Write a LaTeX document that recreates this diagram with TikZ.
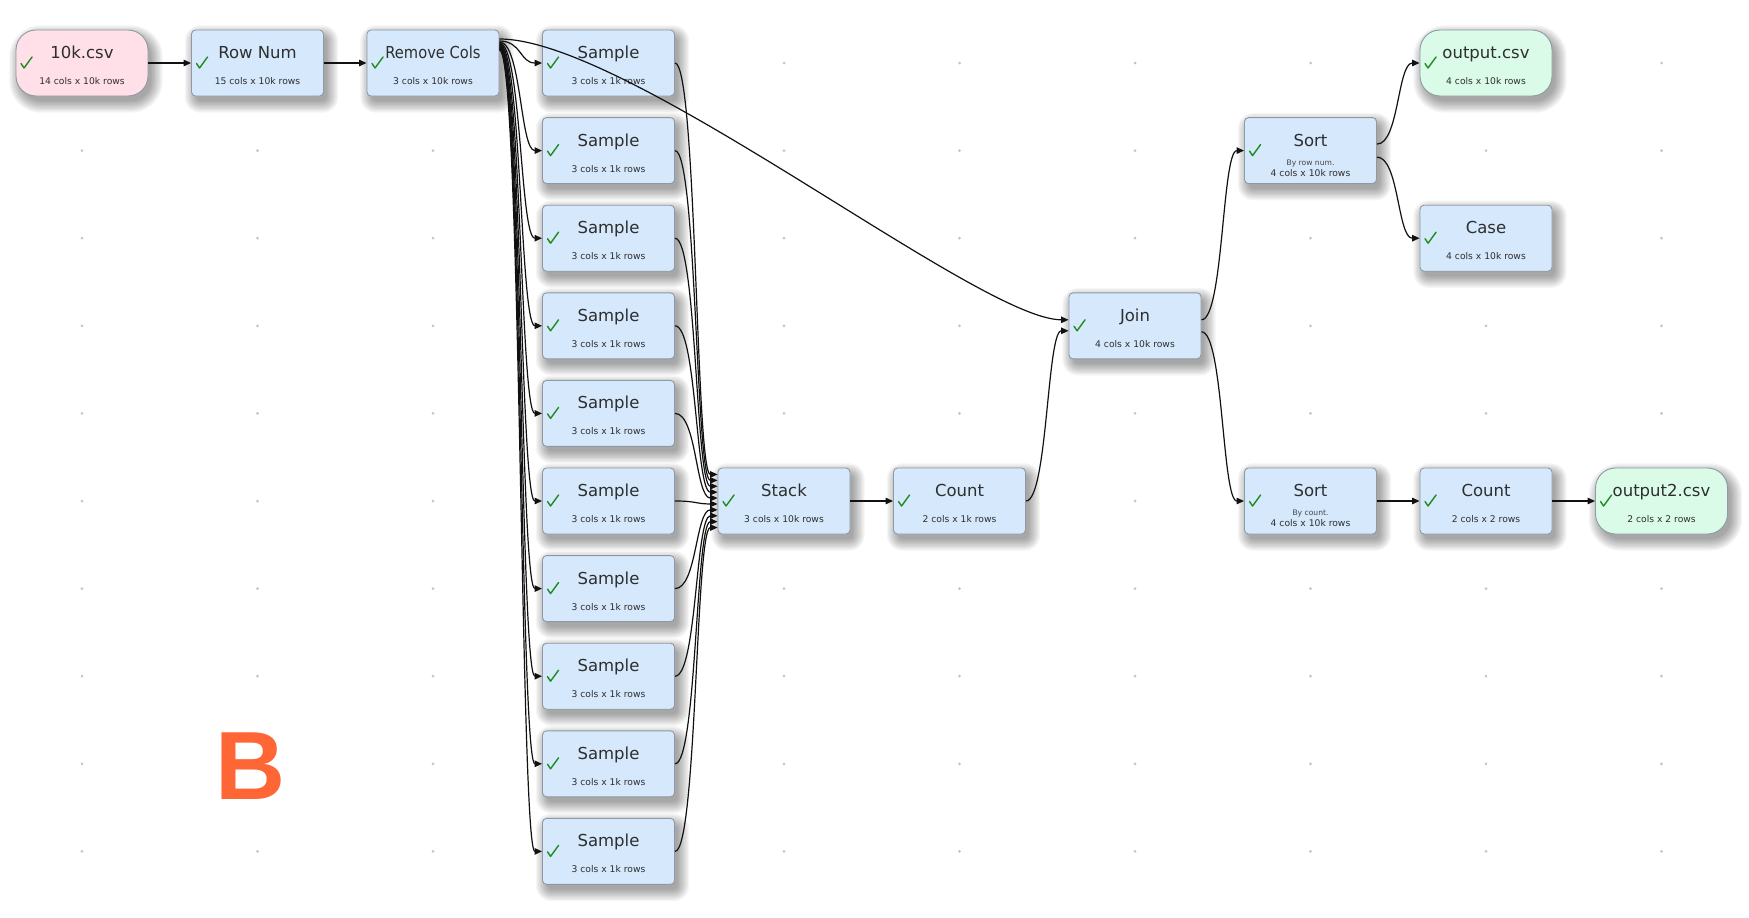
\documentclass[tikz,border=0pt]{standalone}
\usepackage{fontspec}
\usepackage{graphicx}
\setmainfont{DejaVu Sans}
\newfontfamily\bigfont{Liberation Sans}
\usetikzlibrary{arrows.meta,calc}
\definecolor{nblue}{HTML}{D5E8FC}
\definecolor{npink}{HTML}{FFDFE8}
\definecolor{ngreen}{HTML}{DAFBE8}
\definecolor{nborder}{HTML}{8E99A4}
\definecolor{ntext}{HTML}{2E2E2E}
\definecolor{nnote}{HTML}{444444}
\definecolor{ncheck}{HTML}{1E8C1E}
\definecolor{nedge}{HTML}{111111}
\definecolor{ndot}{HTML}{C4C4C4}
\definecolor{bigB}{HTML}{FF6636}
\tikzset{
  opbox/.style={draw=nborder, line width=0.9pt, fill=nblue, rounded corners=4pt,
    minimum width=132pt, minimum height=66pt, inner sep=0pt},
  csvin/.style={opbox, fill=npink, rounded corners=20pt},
  csvout/.style={opbox, fill=ngreen, rounded corners=20pt},
  shadowlayer/.style={fill=black, opacity=0.038},
  ttl/.style={font=\fontsize{16.5}{18}\selectfont, text=ntext, inner sep=0pt, anchor=base},
  subtxt/.style={font=\fontsize{9.2}{11}\selectfont, text=ntext, inner sep=0pt, anchor=base},
  notetxt/.style={font=\fontsize{7.6}{9}\selectfont, text=nnote, inner sep=0pt, anchor=base},
  chk/.style={draw=ncheck, line width=1.4pt, line cap=round, line join=round},
  conn/.style={draw=nedge, line width=1.2pt, -{Triangle[length=7.5pt,width=6.5pt]}},
  gdot/.style={fill=ndot},
}
% soft shadow: #1 col, #2 row, #3 corner radius
\newcommand\softshadow[3]{%
  \foreach \k in {0,...,9}{%
    \pgfmathsetmacro\sh{1.3*\k-1}%
    \pgfmathsetmacro\rr{#3+\sh+1}%
    \fill[shadowlayer, rounded corners=\rr pt]
      ({82+175.5*#1-66+4-\sh},{63+87.6*#2-33+6-\sh}) rectangle
      ({82+175.5*#1+66+4+\sh},{63+87.6*#2+33+6+\sh});
  }%
}
% #1 name, #2 col, #3 row, #4 style, #5 title, #6 subtitle
\newcommand\opnode[6]{%
  \node[#4] (#1) at ({82+175.5*#2},{63+87.6*#3}) {};
  \node[ttl] (#1-t) at ($(#1.north)+(0,29)$) {#5};
  \node[subtxt] (#1-s) at ($(#1.north)+(0,55)$) {#6};
  \draw[chk] ($(#1.west)+(5.5,0.5)$) -- ++(3,4.5) -- ++(8,-11);
}
% #1 name, #2 col, #3 row, #4 note, #5 subtitle
\newcommand\sortnode[5]{%
  \node[opbox] (#1) at ({82+175.5*#2},{63+87.6*#3}) {};
  \node[ttl] (#1-t) at ($(#1.north)+(0,29)$) {Sort};
  \node[notetxt] (#1-n) at ($(#1.north)+(0,48)$) {#4};
  \node[subtxt] (#1-s) at ($(#1.north)+(0,59)$) {#5};
  \draw[chk] ($(#1.west)+(5.5,0.5)$) -- ++(3,4.5) -- ++(8,-11);
}
\begin{document}
\begin{tikzpicture}[x=1pt,y=-1pt]
\fill[white] (0,0) rectangle (1749,918);
\useasboundingbox (0,0) rectangle (1749,918);
% grid dots
\foreach \c/\rs in {0/{1,2,3,4,5,6,7,8,9},1/{1,2,3,4,5,6,7,8,9},2/{1,2,3,4,5,6,7,8,9},
  4/{0,1,2,3,4,6,7,8,9},5/{0,1,2,3,4,6,7,8,9},6/{0,1,2,4,5,6,7,8,9},
  7/{0,2,3,4,6,7,8,9},8/{1,3,4,6,7,8,9},9/{0,1,2,3,4,6,7,8,9}}{
  \foreach \r in \rs {\fill[gdot] ({82+175.5*\c},{63+87.6*\r}) circle (1.5pt);}
}
% big letter
\node[anchor=base west, inner sep=0pt, text=bigB, font=\bigfont\bfseries\fontsize{97}{97}\selectfont] (letter) at (215.5,799) {B};
% shadows
\softshadow{0}{0}{20}
\softshadow{1}{0}{4}
\softshadow{2}{0}{4}
\foreach \i in {0,...,9}{\softshadow{3}{\i}{4}}
\softshadow{4}{5}{4}
\softshadow{5}{5}{4}
\softshadow{6}{3}{4}
\softshadow{7}{1}{4}
\softshadow{7}{5}{4}
\softshadow{8}{0}{20}
\softshadow{8}{2}{4}
\softshadow{8}{5}{4}
\softshadow{9}{5}{20}
% nodes
\opnode{csv}{0}{0}{csvin}{10k.csv}{14 cols x 10k rows}
\opnode{rn}{1}{0}{opbox}{Row Num}{15 cols x 10k rows}
\opnode{rc}{2}{0}{opbox}{\scalebox{0.89}[1]{Remove Cols}}{3 cols x 10k rows}
\foreach \i in {0,...,9}{\opnode{s\i}{3}{\i}{opbox}{Sample}{3 cols x 1k rows}}
\opnode{stack}{4}{5}{opbox}{Stack}{3 cols x 10k rows}
\opnode{cnt}{5}{5}{opbox}{Count}{2 cols x 1k rows}
\opnode{join}{6}{3}{opbox}{Join}{4 cols x 10k rows}
\sortnode{sortA}{7}{1}{By row num.}{4 cols x 10k rows}
\sortnode{sortB}{7}{5}{By count.}{4 cols x 10k rows}
\opnode{out1}{8}{0}{csvout}{output.csv}{4 cols x 10k rows}
\opnode{case}{8}{2}{opbox}{Case}{4 cols x 10k rows}
\opnode{cnt2}{8}{5}{opbox}{Count}{2 cols x 2 rows}
\opnode{out2}{9}{5}{csvout}{output2.csv}{2 cols x 2 rows}
% connectors
\draw[conn] (csv.east) -- (rn.west);
\draw[conn] (rn.east) -- (rc.west);
\foreach \i in {0,...,9}{
  \draw[conn] ($(rc.east)+(0,-22+\i)$) .. controls +(22,0) and +(-22,0) .. (s\i.west);
}
\draw[conn] ($(rc.east)+(0,-24)$) .. controls +(130,0) and +(-90,0) .. ($(join.west)+(0,-6)$);
\foreach \i in {0,...,9}{
  \draw[conn] (s\i.east) .. controls +(22,0) and +(-22,0) .. ($(stack.west)+(0,{(\i-4.5)*5.9})$);
}
\draw[conn] (stack.east) -- (cnt.west);
\draw[conn] (cnt.east) .. controls +(21.5,0) and +(-21.5,0) .. ($(join.west)+(0,5)$);
\draw[conn] ($(join.east)+(0,-6)$) .. controls +(22,0) and +(-22,0) .. (sortA.west);
\draw[conn] ($(join.east)+(0,6)$) .. controls +(22,0) and +(-22,0) .. (sortB.west);
\draw[conn] ($(sortA.east)+(0,-6.5)$) .. controls +(22,0) and +(-22,0) .. (out1.west);
\draw[conn] ($(sortA.east)+(0,6.5)$) .. controls +(22,0) and +(-22,0) .. (case.west);
\draw[conn] (sortB.east) -- (cnt2.west);
\draw[conn] (cnt2.east) -- (out2.west);
\end{tikzpicture}
\end{document}
